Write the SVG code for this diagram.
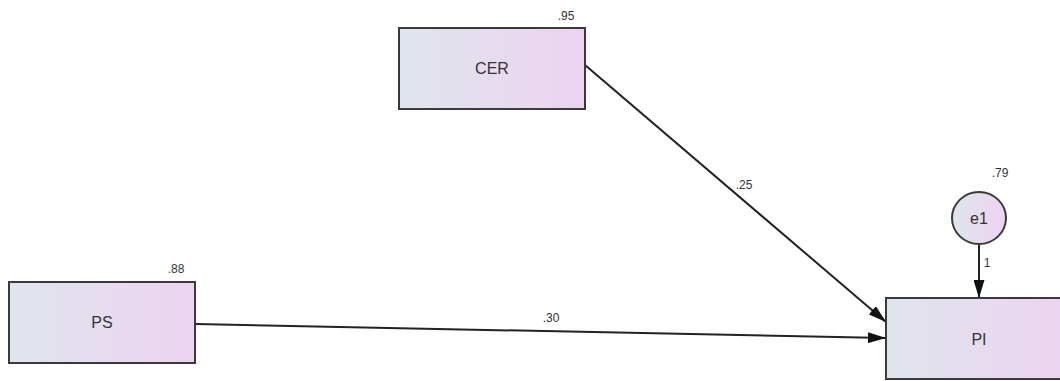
<svg xmlns="http://www.w3.org/2000/svg" width="1060" height="381" viewBox="0 0 1060 381">
  <style>
    .box { fill: url(#fillGrad); stroke: #3a3a3a; stroke-width: 2; }
    .err { fill: url(#fillGrad); stroke: #3a3a3a; stroke-width: 2; }
    .name { font-family: "Liberation Sans", Arial, sans-serif; font-size: 16px; fill: #333; text-anchor: middle; }
    .coef { font-family: "Liberation Sans", Arial, sans-serif; font-size: 12px; fill: #333; text-anchor: middle; }
    .path { stroke: #222; stroke-width: 2; fill: none; marker-end: url(#arrow); }
  </style>
  <defs>
    <linearGradient id="fillGrad" x1="0" y1="0" x2="1" y2="0">
      <stop offset="0" stop-color="#dfe5ec"/>
      <stop offset="1" stop-color="#edd3f2"/>
    </linearGradient>
    <marker id="arrow" viewBox="0 0 18 11" refX="18" refY="5.5" markerWidth="18" markerHeight="11" markerUnits="userSpaceOnUse" orient="auto">
      <path d="M0,0 L18,5.5 L0,11 Z" fill="#111"/>
    </marker>
  </defs>

  <!-- regression paths -->
  <g id="connectors">
    <line class="path" x1="585" y1="65" x2="886" y2="322"/>
    <line class="path" x1="195" y1="324" x2="886" y2="338"/>
    <line class="path" x1="979" y1="245" x2="979" y2="298"/>
    <text class="coef" x="744" y="189">.25</text>
    <text class="coef" x="551" y="322">.30</text>
    <text class="coef" x="987" y="267">1</text>
  </g>

  <g id="CER">
    <rect class="box" x="399" y="28" width="186" height="81"/>
    <text class="name" x="492" y="74">CER</text>
    <text class="coef" x="566" y="20">.95</text>
  </g>

  <g id="PS">
    <rect class="box" x="9" y="282" width="186" height="81"/>
    <text class="name" x="102" y="328">PS</text>
    <text class="coef" x="176" y="273">.88</text>
  </g>

  <g id="PI">
    <rect class="box" x="886" y="298" width="186" height="81"/>
    <text class="name" x="979" y="345">PI</text>
  </g>

  <g id="e1">
    <ellipse class="err" cx="979" cy="218" rx="27" ry="26"/>
    <text class="name" x="979" y="224">e1</text>
    <text class="coef" x="1000" y="177">.79</text>
  </g>
</svg>
